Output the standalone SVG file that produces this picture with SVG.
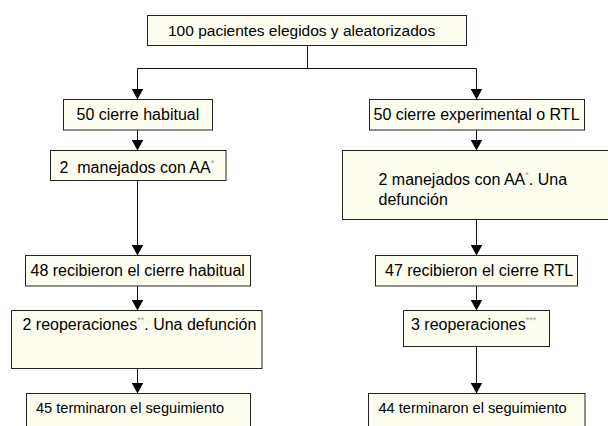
<svg xmlns="http://www.w3.org/2000/svg" width="608" height="426" viewBox="0 0 608 426">
  <defs>
    <style>
      .box { fill: #fefef0; stroke: #222; stroke-width: 1; }
      .t { font-family: "Liberation Sans", Arial, Helvetica, sans-serif; font-size: 16px; fill: #000; }
      .sm { font-size: 14.6px; }
      .sup { font-size: 9px; fill: #999; }
      .ln { fill: none; stroke: #111; stroke-width: 1; marker-end: url(#arr); }
      .pl { fill: none; stroke: #111; stroke-width: 1; }
    </style>
    <marker id="arr" viewBox="0 0 11 12" refX="11" refY="6" markerWidth="11" markerHeight="12" markerUnits="userSpaceOnUse" orient="auto">
      <path d="M0,0 L11,6 L0,12 z" fill="#000"/>
    </marker>
  </defs>

  <g id="connectors">
    <path class="pl" d="M307.5,45 V68.5 M137.5,68.5 H476.5"/>
    <path class="ln" d="M137.5,68.5 V99.5"/>
    <path class="ln" d="M476.5,68.5 V99.5"/>
    <path class="ln" d="M137.5,130 V150.5"/>
    <path class="ln" d="M137.5,180.5 V255.5"/>
    <path class="ln" d="M137.5,286 V310.5"/>
    <path class="ln" d="M137.5,368.5 V393.5"/>
    <path class="ln" d="M476.5,130 V150.5"/>
    <path class="ln" d="M476.5,219.5 V255.5"/>
    <path class="ln" d="M476.5,286 V310.5"/>
    <path class="ln" d="M476.5,346.5 V393.5"/>
  </g>

  <g id="n-top">
    <rect class="box" x="147.5" y="15.5" width="319" height="30"/>
    <text class="t" x="168" y="35.5" style="font-size:15.5px">100 pacientes elegidos y aleatorizados</text>
  </g>

  <g id="n-l1">
    <rect class="box" x="63.5" y="99.5" width="149" height="30.5"/>
    <text class="t" x="76.5" y="120">50 cierre habitual</text>
  </g>

  <g id="n-r1">
    <rect class="box" x="369.5" y="99.5" width="215" height="30.5"/>
    <text class="t" x="373.5" y="120">50 cierre experimental o RTL</text>
  </g>

  <g id="n-l2">
    <rect class="box" x="50.5" y="150.5" width="175.5" height="30"/>
    <text class="t" x="59.5" y="173" xml:space="preserve">2  manejados con AA<tspan class="sup" dy="-7">*</tspan></text>
  </g>

  <g id="n-r2">
    <rect class="box" x="342.5" y="150.5" width="270" height="69"/>
    <text class="t" x="378.5" y="185">2 manejados con AA<tspan class="sup" dy="-7">*</tspan><tspan dy="7">. Una</tspan></text>
    <text class="t" x="378.5" y="204.5">defunción</text>
  </g>

  <g id="n-l3">
    <rect class="box" x="25.5" y="255.5" width="225" height="30.5"/>
    <text class="t" x="30.5" y="276">48 recibieron el cierre habitual</text>
  </g>

  <g id="n-r3">
    <rect class="box" x="375.5" y="255.5" width="202" height="30.5"/>
    <text class="t" x="385" y="275.5">47 recibieron el cierre RTL</text>
  </g>

  <g id="n-l4">
    <rect class="box" x="11.5" y="310.5" width="250.5" height="58"/>
    <text class="t" x="22.5" y="330">2 reoperaciones<tspan class="sup" dy="-7">**</tspan><tspan dy="7">. Una defunción</tspan></text>
  </g>

  <g id="n-r4">
    <rect class="box" x="403.5" y="310.5" width="146" height="36"/>
    <text class="t" x="411" y="330">3 reoperaciones<tspan class="sup" dy="-7">***</tspan></text>
  </g>

  <g id="n-l5">
    <rect class="box" x="26.5" y="393.5" width="224" height="40"/>
    <text class="t sm" x="36" y="413">45 terminaron el seguimiento</text>
  </g>

  <g id="n-r5">
    <rect class="box" x="368.5" y="393.5" width="216.5" height="40"/>
    <text class="t sm" x="378.5" y="413">44 terminaron el seguimiento</text>
  </g>
</svg>
